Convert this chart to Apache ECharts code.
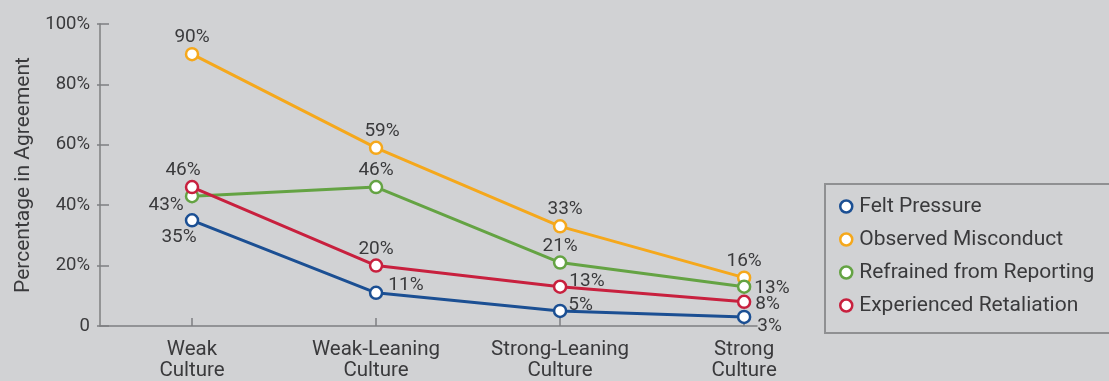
<!DOCTYPE html>
<html><head><meta charset="utf-8">
<script src="https://cdn.jsdelivr.net/npm/echarts@6/dist/echarts.min.js"></script>
<style>html,body{margin:0;padding:0;background:#d1d2d4}#c{width:1109px;height:381px}</style>
</head><body><div id="c"></div>
<script>
const categories = ['Weak\nCulture', 'Weak-Leaning\nCulture', 'Strong-Leaning\nCulture', 'Strong\nCulture'];
const yTicks = [0, 20, 40, 60, 80, 100];
const feltPressure = [35, 11, 5, 3];
const observedMisconduct = [90, 59, 33, 16];
const refrainedReporting = [43, 46, 21, 13];
const experiencedRetaliation = [46, 20, 13, 8];
const seriesNames = ['Felt Pressure', 'Observed Misconduct', 'Refrained from Reporting', 'Experienced Retaliation'];

const colors = ['#1b4f93', '#f5a81c', '#64a343', '#c8203e'];
const txt = '#3a3a3c';
const font = 'Roboto, "Open Sans", sans-serif';

// label placement (style only)
const placements = [
  [{position:'bottom', distance:2, offset:[-13,-2]}, {position:'right', distance:5, offset:[0,-8]}, {position:'right', distance:1, offset:[0,-6]}, {position:'right', distance:6, offset:[0,9]}],
  [{position:'top', distance:0}, {position:'top', distance:0, offset:[6,0]}, {position:'top', distance:0, offset:[5,0]}, {position:'top', distance:0}],
  [{position:'left', distance:1, offset:[0,9]}, {position:'top', distance:0}, {position:'top', distance:0}, {position:'right', distance:3, offset:[0,2]}],
  [{position:'top', distance:0, offset:[-9,0]}, {position:'top', distance:0}, {position:'right', distance:2, offset:[0,-5]}, {position:'right', distance:4, offset:[0,2]}]
];
const allData = [feltPressure, observedMisconduct, refrainedReporting, experiencedRetaliation];

const series = allData.map((vals, si) => ({
  name: seriesNames[si],
  type: 'line',
  yAxisIndex: 0,
  symbol: 'circle',
  symbolSize: 12,
  itemStyle: {color: '#ffffff', borderColor: colors[si], borderWidth: 2.5},
  lineStyle: {color: colors[si], width: 3},
  z: 2 + si,
  label: {show: true, fontFamily: font, fontSize: 19, color: txt, formatter: p => p.value[1] + '%'},
  data: vals.map((v, i) => ({value: [i, v], label: placements[si][i]}))
}));

const chart = echarts.init(document.getElementById('c'), null, {renderer: 'canvas'});
chart.setOption({
  backgroundColor: '#d1d2d4',
  animation: false,
  grid: {left: 100, right: 352, top: 24, bottom: 54},
  xAxis: {
    type: 'value', min: -0.5, max: 3.07,
    splitLine: {show: false},
    axisLine: {show: true, onZero: false, lineStyle: {color: '#7e7f81', width: 1.5}},
    axisTick: {show: true, inside: true, length: 8, customValues: [0,1,2,3], lineStyle: {color: '#7e7f81', width: 1.5}},
    axisLabel: {customValues: [0,1,2,3], formatter: v => categories[Math.round(v)], fontFamily: font, fontSize: 20.5, lineHeight: 21, color: txt, margin: 13}
  },
  yAxis: [{
    type: 'value', min: 0, max: 100, interval: 20, position: 'left',
    name: 'Percentage in Agreement', nameLocation: 'middle', nameGap: 66,
    nameTextStyle: {fontFamily: font, fontSize: 21, color: txt},
    splitLine: {show: false},
    axisLine: {show: true, onZero: false, lineStyle: {color: '#7e7f81', width: 1.5}},
    axisTick: {show: true, inside: true, length: 9, lineStyle: {color: '#7e7f81', width: 1.5}},
    axisLabel: {formatter: v => (v === 0 ? '0' : v + '%'), fontFamily: font, fontSize: 18.5, color: txt, margin: 10}
  }, {
    type: 'value', min: 0, max: 100, interval: 20, position: 'left',
    splitLine: {show: false},
    axisLine: {show: false, onZero: false},
    axisTick: {show: true, inside: false, length: 3, lineStyle: {color: '#7e7f81', width: 1.5}},
    axisLabel: {show: false}
  }],
  legend: {
    data: seriesNames,
    orient: 'vertical',
    left: 825, top: 184,
    icon: 'circle',
    itemWidth: 12, itemHeight: 12,
    itemGap: 10,
    itemStyle: {color: '#ffffff', borderWidth: 2.5},
    lineStyle: {opacity: 0},
    padding: [11, 60, 16, 14],
    borderColor: '#8f9092', borderWidth: 2,
    textStyle: {fontFamily: font, fontSize: 21, color: txt, lineHeight: 23, padding: [0,0,0,2]}
  },
  series: series
});
</script></body></html>
